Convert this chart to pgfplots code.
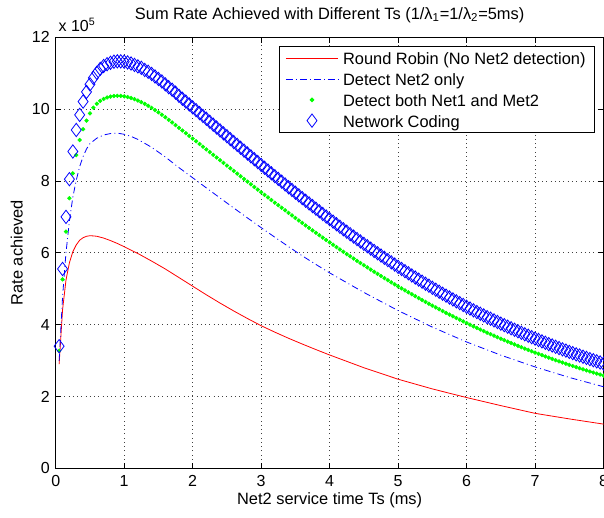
\documentclass[border=0pt]{standalone}
\usepackage{fontspec}
\setmainfont{Liberation Sans}
\usepackage{pgfplots}
\pgfplotsset{compat=1.18}
\usepackage{pgfplotstable}

% Detect both Net1 and Met2 (green dots)
\pgfplotstableread{
x y
0.05 3.27
0.10 5.26
0.15 6.59
0.20 7.52
0.25 8.21
0.30 8.72
0.35 9.14
0.40 9.44
0.45 9.68
0.50 9.88
0.55 10.04
0.60 10.15
0.65 10.23
0.70 10.285
0.75 10.325
0.80 10.35
0.85 10.365
0.90 10.37
0.95 10.366
1.00 10.354
1.05 10.335
1.10 10.310
1.15 10.277
1.20 10.239
1.25 10.196
1.30 10.147
1.35 10.094
1.40 10.036
1.45 9.975
1.50 9.911
1.55 9.844
1.60 9.774
1.65 9.702
1.70 9.629
1.75 9.555
1.80 9.480
1.85 9.405
1.90 9.330
1.95 9.255
2.00 9.180
2.05 9.105
2.10 9.029
2.15 8.954
2.20 8.879
2.25 8.804
2.30 8.728
2.35 8.653
2.40 8.578
2.45 8.503
2.50 8.428
2.55 8.353
2.60 8.278
2.65 8.204
2.70 8.129
2.75 8.055
2.80 7.980
2.85 7.907
2.90 7.833
2.95 7.760
3.00 7.686
3.05 7.613
3.10 7.540
3.15 7.468
3.20 7.396
3.25 7.325
3.30 7.253
3.35 7.182
3.40 7.110
3.45 7.040
3.50 6.970
3.55 6.900
3.60 6.830
3.65 6.762
3.70 6.693
3.75 6.625
3.80 6.557
3.85 6.490
3.90 6.422
3.95 6.356
4.00 6.290
4.05 6.225
4.10 6.159
4.15 6.094
4.20 6.029
4.25 5.966
4.30 5.902
4.35 5.840
4.40 5.777
4.45 5.715
4.50 5.653
4.55 5.593
4.60 5.532
4.65 5.472
4.70 5.412
4.75 5.354
4.80 5.295
4.85 5.237
4.90 5.179
4.95 5.122
5.00 5.065
5.05 5.010
5.10 4.954
5.15 4.900
5.20 4.845
5.25 4.791
5.30 4.737
5.35 4.685
5.40 4.632
5.45 4.581
5.50 4.529
5.55 4.479
5.60 4.428
5.65 4.378
5.70 4.328
5.75 4.280
5.80 4.231
5.85 4.184
5.90 4.136
5.95 4.090
6.00 4.043
6.05 3.998
6.10 3.952
6.15 3.908
6.20 3.863
6.25 3.820
6.30 3.776
6.35 3.734
6.40 3.691
6.45 3.650
6.50 3.608
6.55 3.568
6.60 3.527
6.65 3.488
6.70 3.448
6.75 3.410
6.80 3.371
6.85 3.333
6.90 3.295
6.95 3.258
7.00 3.221
7.05 3.186
7.10 3.150
7.15 3.115
7.20 3.079
7.25 3.045
7.30 3.011
7.35 2.978
7.40 2.945
7.45 2.913
7.50 2.880
7.55 2.848
7.60 2.816
7.65 2.786
7.70 2.755
7.75 2.725
7.80 2.695
7.85 2.666
7.90 2.637
7.95 2.609
8.00 2.580
}\greendata

% Network Coding (blue diamonds)
\pgfplotstableread{
x y
0.05 3.40
0.10 5.55
0.15 7.00
0.20 8.05
0.25 8.82
0.30 9.42
0.35 9.84
0.40 10.21
0.45 10.48
0.50 10.69
0.55 10.87
0.60 11.01
0.65 11.12
0.70 11.20
0.75 11.25
0.80 11.29
0.85 11.32
0.90 11.33
0.95 11.33
1.00 11.32
1.05 11.30
1.10 11.27
1.15 11.23
1.20 11.19
1.25 11.15
1.30 11.09
1.35 11.04
1.40 10.98
1.45 10.91
1.50 10.84
1.55 10.77
1.60 10.69
1.65 10.61
1.70 10.54
1.75 10.46
1.80 10.37
1.85 10.29
1.90 10.21
1.95 10.13
2.00 10.05
2.05 9.972
2.10 9.890
2.15 9.810
2.20 9.730
2.25 9.649
2.30 9.568
2.35 9.487
2.40 9.407
2.45 9.326
2.50 9.246
2.55 9.165
2.60 9.084
2.65 9.005
2.70 8.924
2.75 8.844
2.80 8.764
2.85 8.685
2.90 8.605
2.95 8.527
3.00 8.447
3.05 8.368
3.10 8.290
3.15 8.212
3.20 8.134
3.25 8.058
3.30 7.980
3.35 7.903
3.40 7.825
3.45 7.750
3.50 7.674
3.55 7.598
3.60 7.523
3.65 7.449
3.70 7.374
3.75 7.301
3.80 7.227
3.85 7.155
3.90 7.081
3.95 7.009
4.00 6.938
4.05 6.867
4.10 6.796
4.15 6.726
4.20 6.655
4.25 6.587
4.30 6.518
4.35 6.451
4.40 6.382
4.45 6.315
4.50 6.248
4.55 6.183
4.60 6.117
4.65 6.051
4.70 5.987
4.75 5.924
4.80 5.859
4.85 5.796
4.90 5.734
4.95 5.672
5.00 5.609
5.05 5.550
5.10 5.489
5.15 5.430
5.20 5.370
5.25 5.311
5.30 5.253
5.35 5.196
5.40 5.138
5.45 5.083
5.50 5.026
5.55 4.972
5.60 4.916
5.65 4.861
5.70 4.807
5.75 4.755
5.80 4.701
5.85 4.650
5.90 4.598
5.95 4.547
6.00 4.496
6.05 4.448
6.10 4.398
6.15 4.351
6.20 4.303
6.25 4.257
6.30 4.209
6.35 4.164
6.40 4.118
6.45 4.074
6.50 4.028
6.55 3.985
6.60 3.941
6.65 3.899
6.70 3.856
6.75 3.815
6.80 3.773
6.85 3.732
6.90 3.691
6.95 3.651
7.00 3.611
7.05 3.573
7.10 3.534
7.15 3.496
7.20 3.457
7.25 3.420
7.30 3.383
7.35 3.348
7.40 3.312
7.45 3.277
7.50 3.241
7.55 3.207
7.60 3.172
7.65 3.140
7.70 3.106
7.75 3.073
7.80 3.040
7.85 3.009
7.90 2.977
7.95 2.947
8.00 2.915
}\diamdata

\newcommand{\chartfont}{\fontsize{12.3}{14.5}\selectfont}

\begin{document}
\begin{tikzpicture}
\useasboundingbox (0,0) rectangle (453pt,388.5pt);
\begin{axis}[
  name=ax,
  at={(41.78pt,37.28pt)}, anchor=south west,
  scale only axis, width=410.9pt, height=323.25pt,
  xmin=0, xmax=8, ymin=0, ymax=12,
  xtick={0,1,...,8}, ytick={0,2,...,12},
  grid=major,
  major grid style={black!75, line width=0.45pt, dash pattern=on 0.6pt off 2.6pt},
  axis line style={black, line width=0.6pt},
  tick style={black, line width=0.6pt},
  major tick length=4pt,
  tick align=inside,
  /pgf/number format/assume math mode=true,
  tick label style={font=\fontsize{12}{14}\selectfont},
  xticklabel style={anchor=base, yshift=-13.3pt},
  yticklabel style={anchor=east, inner sep=0pt, xshift=-4.3pt},
  xlabel={Net2 service time Ts (ms)},
  ylabel={Rate achieved},
  label style={font=\chartfont},
  xlabel style={at={(rel axis cs:0.5,0)}, anchor=base, yshift=-27pt},
  ylabel style={at={(rel axis cs:0,0.5)}, anchor=center, yshift=29.3pt},
  title={Sum Rate Achieved with Different Ts (1/λ\textsubscript{1}=1/λ\textsubscript{2}=5ms)},
  title style={font=\chartfont, at={(rel axis cs:0.5,1)}, anchor=base, yshift=7.7pt},
  legend cell align=left,
  legend image code/.code={\draw[mark repeat=2,mark phase=2,#1] plot coordinates {(0pt,0pt) (19.5pt,0pt) (39pt,0pt)};},
  legend style={at={(rel axis cs:1,1)}, anchor=north east, xshift=-6.45pt, yshift=-6.3pt,
    draw=black, line width=0.6pt, fill=white, inner xsep=4.75pt, inner ysep=1.3pt,
    font=\chartfont, /tikz/column sep=1.5pt,
    nodes={inner xsep=2pt, inner ysep=1pt, text height=11.7pt, text depth=1.9pt}},
]
\addplot[red, line width=0.6pt] coordinates {
(0.05,2.90) (0.10,4.41) (0.15,5.24) (0.20,5.72) (0.25,6.03) (0.30,6.22)
(0.35,6.35) (0.40,6.42) (0.45,6.46) (0.50,6.475) (0.55,6.47) (0.60,6.46)
(0.70,6.41) (0.80,6.34) (0.90,6.26) (1.00,6.17) (1.20,5.98) (1.40,5.77)
(1.60,5.55) (1.80,5.31) (2.00,5.07) (2.20,4.83) (2.40,4.60) (2.60,4.38)
(2.80,4.17) (3.00,3.97) (3.20,3.79) (3.40,3.62) (3.60,3.46) (3.80,3.305)
(4.00,3.155) (4.50,2.80) (5.00,2.48) (5.50,2.21) (6.00,1.97) (6.50,1.745)
(7.00,1.53) (7.50,1.375) (8.00,1.23)
};
\addlegendentry{Round Robin (No Net2 detection)}
\addplot[blue, line width=0.6pt, dash pattern=on 5pt off 2.4pt on 0.7pt off 2.4pt] coordinates {
(0.05,3.00) (0.10,4.77) (0.15,6.00) (0.20,6.88) (0.25,7.55) (0.30,8.02)
(0.35,8.40) (0.40,8.68) (0.45,8.89) (0.50,9.04) (0.60,9.19) (0.70,9.28)
(0.80,9.32) (0.90,9.333) (1.00,9.299) (1.10,9.240) (1.20,9.157) (1.40,8.938)
(1.60,8.668) (1.80,8.371) (2.00,8.089) (2.20,7.806) (2.40,7.526) (2.60,7.247)
(2.80,6.971) (3.00,6.700) (3.20,6.433) (3.40,6.171) (3.60,5.915) (3.80,5.675)
(4.00,5.441) (4.50,4.896) (5.00,4.391) (5.50,3.931) (6.00,3.517) (6.50,3.150)
(7.00,2.822) (7.50,2.529) (8.00,2.270)
};
\addlegendentry{Detect Net2 only}
\addplot[only marks, mark=*, mark size=1.4pt, color=green, mark options={draw=none, fill=green}] table {\greendata};
\addlegendentry{Detect both Net1 and Met2}
\addplot[only marks, mark=diamond, mark size=5pt, color=blue, mark options={line width=0.6pt, fill=none}] table {\diamdata};
\addlegendentry{Network Coding}
\end{axis}
\node[anchor=base west, inner sep=0pt, font=\fontsize{12}{14}\selectfont] at ([xshift=2pt,yshift=4.2pt]ax.north west) {x 10\textsuperscript{5}};
\end{tikzpicture}
\end{document}
